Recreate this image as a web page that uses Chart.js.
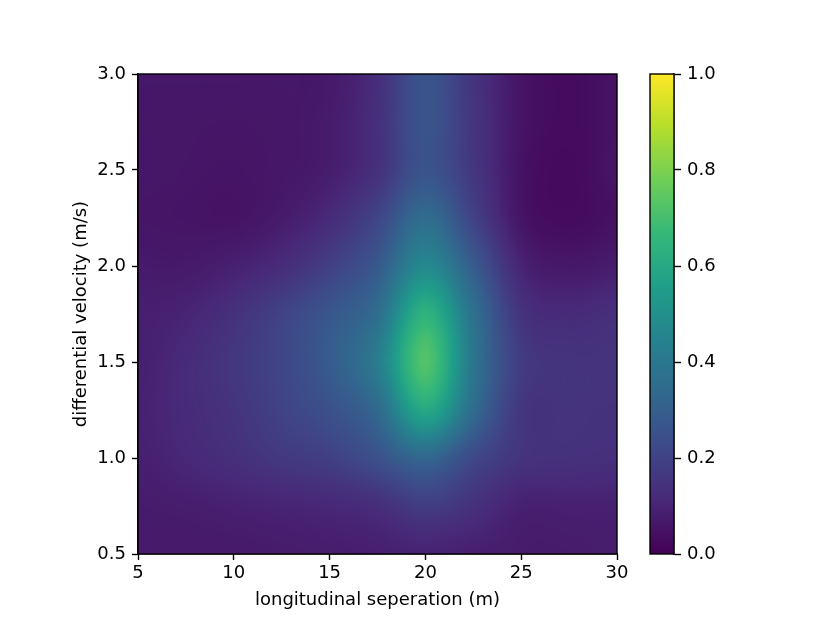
<!DOCTYPE html>
<html>
<head>
<meta charset="utf-8">
<script src="https://cdn.jsdelivr.net/npm/chart.js@4.4.0/dist/chart.umd.min.js"></script>
<style>
  body { margin: 0; background: #fff; }
  #wrap { position: relative; width: 830px; height: 623px; }
  #wrap canvas { position: absolute; left: 0; top: 0; }
</style>
</head>
<body>
<div id="wrap">
  <canvas id="heat" width="830" height="623"></canvas>
  <canvas id="cbar" width="830" height="623"></canvas>
</div>
<script>
'use strict';
// GRID OF THE HEATMAP
const xValues = [5, 7.5, 10, 12.5, 15, 17.5, 20, 22.5, 25, 27.5, 30];
const yValues = [0.5, 0.75, 1.0, 1.25, 1.5, 1.75, 2.0, 2.25, 2.5, 2.75, 3.0];

const row050 = [0.07, 0.07, 0.07, 0.075, 0.08, 0.085, 0.095, 0.085, 0.075, 0.075, 0.08];
const row075 = [0.075, 0.08, 0.09, 0.10, 0.11, 0.13, 0.18, 0.14, 0.09, 0.09, 0.09];
const row100 = [0.085, 0.11, 0.135, 0.165, 0.19, 0.25, 0.33, 0.22, 0.15, 0.14, 0.135];
const row125 = [0.09, 0.12, 0.15, 0.20, 0.25, 0.34, 0.60, 0.35, 0.16, 0.15, 0.145];
const row150 = [0.085, 0.12, 0.16, 0.21, 0.29, 0.42, 0.72, 0.39, 0.18, 0.15, 0.15];
const row175 = [0.085, 0.10, 0.14, 0.20, 0.27, 0.36, 0.64, 0.37, 0.15, 0.12, 0.135];
const row200 = [0.07, 0.07, 0.09, 0.125, 0.19, 0.28, 0.47, 0.29, 0.10, 0.065, 0.08];
const row225 = [0.058, 0.055, 0.052, 0.075, 0.12, 0.21, 0.35, 0.20, 0.055, 0.03, 0.045];
const row250 = [0.062, 0.058, 0.055, 0.062, 0.08, 0.14, 0.26, 0.16, 0.05, 0.025, 0.055];
const row275 = [0.06, 0.06, 0.058, 0.062, 0.075, 0.135, 0.26, 0.155, 0.055, 0.03, 0.05];
const row300 = [0.065, 0.065, 0.065, 0.065, 0.07, 0.13, 0.26, 0.15, 0.055, 0.03, 0.05];

const zRows = [row050, row075, row100, row125, row150, row175, row200, row225, row250, row275, row300];

// TICK LABELS
const xTicks = [5, 10, 15, 20, 25, 30];
const yTicks = [0.5, 1.0, 1.5, 2.0, 2.5, 3.0];
const colorTicks = [0, 0.2, 0.4, 0.6, 0.8, 1.0];

// VIRIDIS COLORMAP STOPS
const viridis = [
  [68, 1, 84], [72, 40, 120], [62, 73, 137], [49, 104, 142], [38, 130, 142],
  [31, 158, 137], [53, 183, 121], [110, 206, 88], [181, 222, 43], [253, 231, 37],
];

const FONT = { family: 'DejaVu Sans', size: 18 };

function colorFor(v) {
  v = Math.min(1, Math.max(0, v));
  const p = v * (viridis.length - 1);
  const i = Math.min(viridis.length - 2, Math.floor(p));
  const t = p - i;
  const a = viridis[i];
  const b = viridis[i + 1];
  return [a[0] + (b[0] - a[0]) * t, a[1] + (b[1] - a[1]) * t, a[2] + (b[2] - a[2]) * t];
}

// BICUBIC LOOKUP, LIKE IMSHOW INTERPOLATION
function cubic(p0, p1, p2, p3, t) {
  return p1 + 0.5 * t * (p2 - p0 + t * (2 * p0 - 5 * p1 + 4 * p2 - p3 + t * (3 * (p1 - p2) + p3 - p0)));
}

function cell(i, j) {
  const r = Math.min(zRows.length - 1, Math.max(0, j));
  const c = Math.min(xValues.length - 1, Math.max(0, i));
  return zRows[r][c];
}

function sampleGrid(x, y) {
  const nx = xValues.length;
  const ny = yValues.length;
  let fx = ((x - xValues[0]) / (xValues[nx - 1] - xValues[0])) * (nx - 1);
  let fy = ((y - yValues[0]) / (yValues[ny - 1] - yValues[0])) * (ny - 1);
  fx = Math.min(nx - 1, Math.max(0, fx));
  fy = Math.min(ny - 1, Math.max(0, fy));
  const ix = Math.min(nx - 2, Math.floor(fx));
  const iy = Math.min(ny - 2, Math.floor(fy));
  const tx = fx - ix;
  const ty = fy - iy;
  const cols = [];
  for (let k = -1; k <= 2; k++) {
    cols.push(cubic(cell(ix - 1, iy + k), cell(ix, iy + k), cell(ix + 1, iy + k), cell(ix + 2, iy + k), tx));
  }
  return cubic(cols[0], cols[1], cols[2], cols[3], ty);
}

// PLUGIN THAT PAINTS THE HEATMAP THROUGH THE CHART SCALES
const heatPlugin = {
  id: 'heat',
  beforeDatasetsDraw(chart) {
    const { ctx, chartArea, scales } = chart;
    const left = Math.round(chartArea.left);
    const top = Math.round(chartArea.top);
    const w = Math.round(chartArea.right) - left;
    const h = Math.round(chartArea.bottom) - top;
    const img = ctx.createImageData(w, h);
    for (let j = 0; j < h; j++) {
      const y = scales.y.getValueForPixel(top + j + 0.5);
      for (let i = 0; i < w; i++) {
        const x = scales.x.getValueForPixel(left + i + 0.5);
        const c = colorFor(sampleGrid(x, y));
        const k = (j * w + i) * 4;
        img.data[k] = c[0];
        img.data[k + 1] = c[1];
        img.data[k + 2] = c[2];
        img.data[k + 3] = 255;
      }
    }
    ctx.putImageData(img, left, top);
  },
  afterDraw(chart) {
    const { ctx, chartArea } = chart;
    ctx.save();
    ctx.strokeStyle = '#000';
    ctx.lineWidth = 1.4;
    ctx.strokeRect(chartArea.left, chartArea.top, chartArea.right - chartArea.left, chartArea.bottom - chartArea.top);
    ctx.restore();
  },
};

// PLUGIN THAT PAINTS THE COLORBAR
const barPlugin = {
  id: 'cbar',
  beforeDatasetsDraw(chart) {
    const { ctx, chartArea, scales } = chart;
    for (let py = Math.floor(chartArea.top); py < Math.ceil(chartArea.bottom); py++) {
      const c = colorFor(scales.y.getValueForPixel(py + 0.5));
      ctx.fillStyle = `rgb(${c[0]},${c[1]},${c[2]})`;
      ctx.fillRect(chartArea.left, py, chartArea.right - chartArea.left, 1);
    }
  },
  afterDraw(chart) {
    const { ctx, chartArea } = chart;
    ctx.save();
    ctx.strokeStyle = '#000';
    ctx.lineWidth = 1.4;
    ctx.strokeRect(chartArea.left, chartArea.top, chartArea.right - chartArea.left, chartArea.bottom - chartArea.top);
    ctx.restore();
  },
};

function axisGrid(len) {
  return { drawOnChartArea: false, drawTicks: true, tickLength: len, tickColor: '#000', tickWidth: 1.4 };
}

function createHeatmap() {
  const points = [];
  yValues.forEach((y, r) => xValues.forEach((x, c) => points.push({ x: x, y: y, v: zRows[r][c] })));

  new Chart(document.querySelector('#heat'), {
    type: 'scatter',
    data: { datasets: [{ data: points, pointRadius: 0 }] },
    plugins: [heatPlugin],
    options: {
      responsive: false,
      animation: false,
      devicePixelRatio: 1,
      layout: { padding: { top: 74, right: 213, left: 0, bottom: 0 } },
      plugins: { legend: { display: false }, tooltip: { enabled: false } },
      scales: {
        x: {
          type: 'linear',
          min: 5,
          max: 30,
          afterBuildTicks: (s) => { s.ticks = xTicks.map((v) => ({ value: v })); },
          afterFit: (s) => { s.height = 69; },
          grid: axisGrid(6),
          border: { display: true, color: '#000', width: 1.4 },
          ticks: { font: FONT, color: '#000', padding: 3, maxRotation: 0, callback: (v) => String(v) },
          title: { display: true, text: 'longitudinal seperation (m)', font: FONT, color: '#000', padding: { top: 0, bottom: 12 } },
        },
        y: {
          type: 'linear',
          min: 0.5,
          max: 3.0,
          afterBuildTicks: (s) => { s.ticks = yTicks.map((v) => ({ value: v })); },
          afterFit: (s) => { s.width = 138; },
          grid: axisGrid(6),
          border: { display: true, color: '#000', width: 1.4 },
          ticks: { font: FONT, color: '#000', padding: 6, callback: (v) => v.toFixed(1) },
          title: { display: true, text: 'differential velocity (m/s)', font: FONT, color: '#000', padding: { top: 71, bottom: 0 } },
        },
      },
    },
  });
}

function createColorbar() {
  new Chart(document.querySelector('#cbar'), {
    type: 'scatter',
    data: { datasets: [{ data: colorTicks.map((v) => ({ x: 0, y: v })), pointRadius: 0 }] },
    plugins: [barPlugin],
    options: {
      responsive: false,
      animation: false,
      devicePixelRatio: 1,
      layout: { padding: { top: 74, right: 0, left: 650, bottom: 69 } },
      plugins: { legend: { display: false }, tooltip: { enabled: false } },
      scales: {
        x: { type: 'linear', display: false, min: 0, max: 1 },
        y: {
          type: 'linear',
          position: 'right',
          min: 0,
          max: 1,
          afterBuildTicks: (s) => { s.ticks = colorTicks.map((v) => ({ value: v })); },
          afterFit: (s) => { s.width = 156; },
          grid: axisGrid(7),
          border: { display: true, color: '#000', width: 1.4 },
          ticks: { font: FONT, color: '#000', padding: 6, callback: (v) => v.toFixed(1) },
        },
      },
    },
  });
}

//RUN ON PAGE LOAD
createHeatmap();
createColorbar();
</script>
</body>
</html>
